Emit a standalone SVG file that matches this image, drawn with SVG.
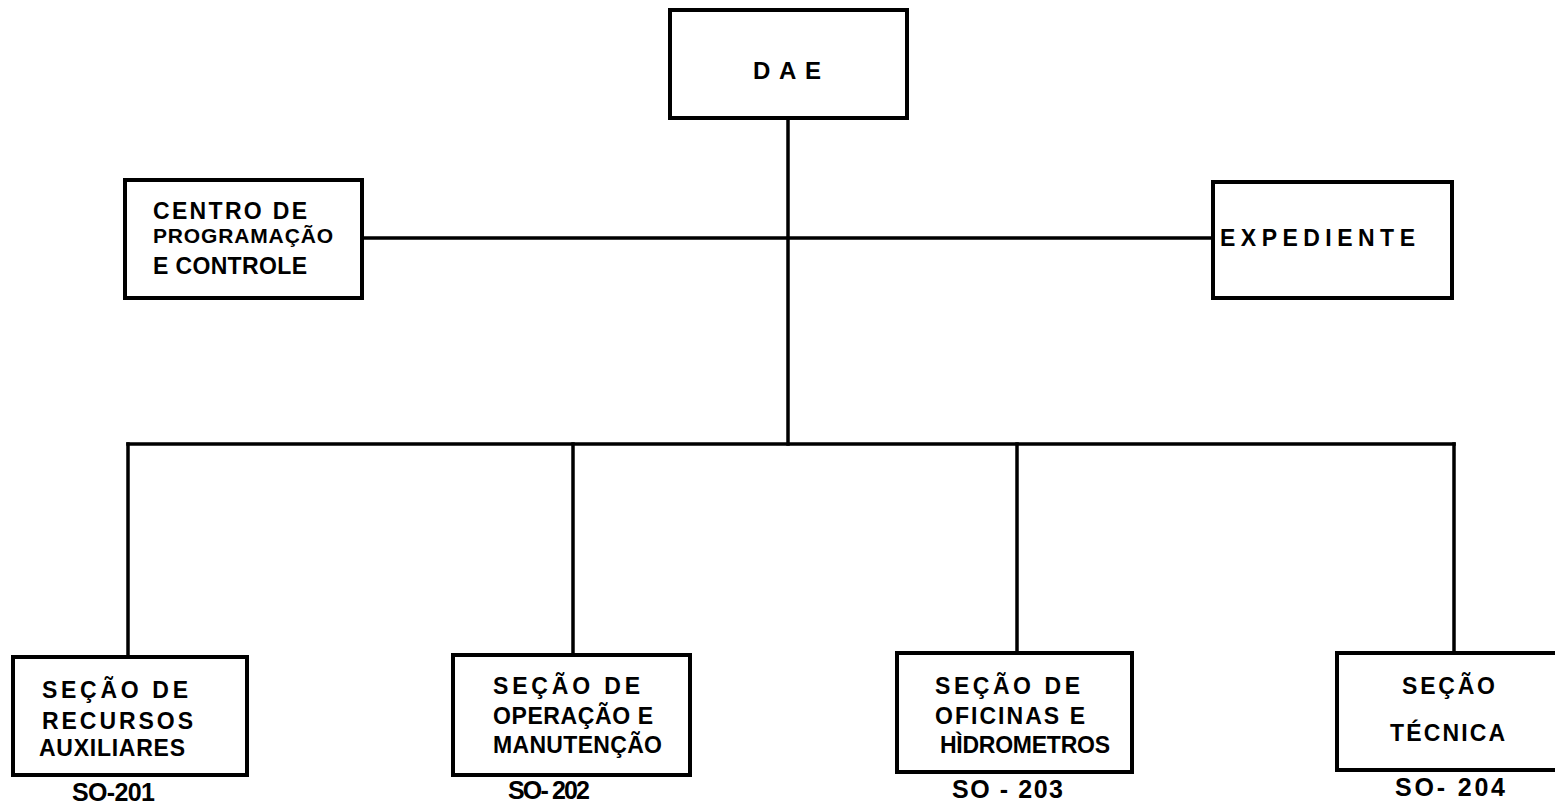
<svg xmlns="http://www.w3.org/2000/svg" width="1555" height="805" viewBox="0 0 1555 805">
<style>
.box{fill:#fff;stroke:#000;stroke-width:4}
.ln{stroke:#000;stroke-width:3.5;fill:none;stroke-linecap:square}
text{font-family:"Liberation Sans","DejaVu Sans",sans-serif;fill:#000;font-size:23px;font-weight:bold}
.code{font-size:25px}
</style>
<rect width="1555" height="805" fill="#fff"/>
<g id="connectors">
<line class="ln" x1="788" y1="118" x2="788" y2="444"/>
<line class="ln" x1="362" y1="238" x2="1213" y2="238"/>
<line class="ln" x1="128" y1="444" x2="1454" y2="444"/>
<line class="ln" x1="128" y1="444" x2="128" y2="657"/>
<line class="ln" x1="573" y1="444" x2="573" y2="655"/>
<line class="ln" x1="1017" y1="444" x2="1017" y2="653"/>
<line class="ln" x1="1454" y1="444" x2="1454" y2="653"/>
</g>
<g id="dae">
<rect class="box" x="670" y="10" width="237" height="108"/>
<text x="753" y="79" textLength="68" lengthAdjust="spacing" style="font-size:24px">DAE</text>
</g>
<g id="centro">
<rect class="box" x="125" y="180" width="237" height="118"/>
<text x="153" y="219" textLength="154" lengthAdjust="spacing">CENTRO  DE</text>
<text x="153" y="243" textLength="180" lengthAdjust="spacing" style="font-size:21px">PROGRAMAÇÃO</text>
<text x="153" y="274" textLength="154" lengthAdjust="spacing">E  CONTROLE</text>
</g>
<g id="expediente">
<rect class="box" x="1213" y="182" width="239" height="116"/>
<text x="1220" y="246" textLength="195" lengthAdjust="spacing">EXPEDIENTE</text>
</g>
<g id="so201">
<rect class="box" x="13" y="657" width="234" height="118"/>
<text x="42" y="698" textLength="146" lengthAdjust="spacing">SEÇÃO  DE</text>
<text x="42" y="729" textLength="151" lengthAdjust="spacing">RECURSOS</text>
<text x="39" y="756" textLength="146" lengthAdjust="spacing">AUXILIARES</text>
<text x="72" y="801" class="code" textLength="83" lengthAdjust="spacing">SO-201</text>
</g>
<g id="so202">
<rect class="box" x="453" y="655" width="237" height="120"/>
<text x="493" y="694" textLength="147" lengthAdjust="spacing">SEÇÃO  DE</text>
<text x="493" y="724" textLength="160" lengthAdjust="spacing">OPERAÇÃO E</text>
<text x="493" y="753" textLength="169" lengthAdjust="spacing">MANUTENÇÃO</text>
<text x="508" y="799" class="code" textLength="82" lengthAdjust="spacing">SO- 202</text>
</g>
<g id="so203">
<rect class="box" x="897" y="653" width="235" height="119"/>
<text x="935" y="694" textLength="145" lengthAdjust="spacing">SEÇÃO  DE</text>
<text x="935" y="724" textLength="150" lengthAdjust="spacing">OFICINAS  E</text>
<text x="940" y="753" textLength="170" lengthAdjust="spacing">HÌDROMETROS</text>
<text x="952" y="798" class="code" textLength="111" lengthAdjust="spacing">SO - 203</text>
</g>
<g id="so204">
<rect class="box" x="1337" y="653" width="240" height="117"/>
<text x="1402" y="694" textLength="93" lengthAdjust="spacing">SEÇÃO</text>
<text x="1390" y="741" textLength="115" lengthAdjust="spacing">TÉCNICA</text>
<text x="1395" y="796" class="code" textLength="110" lengthAdjust="spacing">SO- 204</text>
</g>
</svg>
